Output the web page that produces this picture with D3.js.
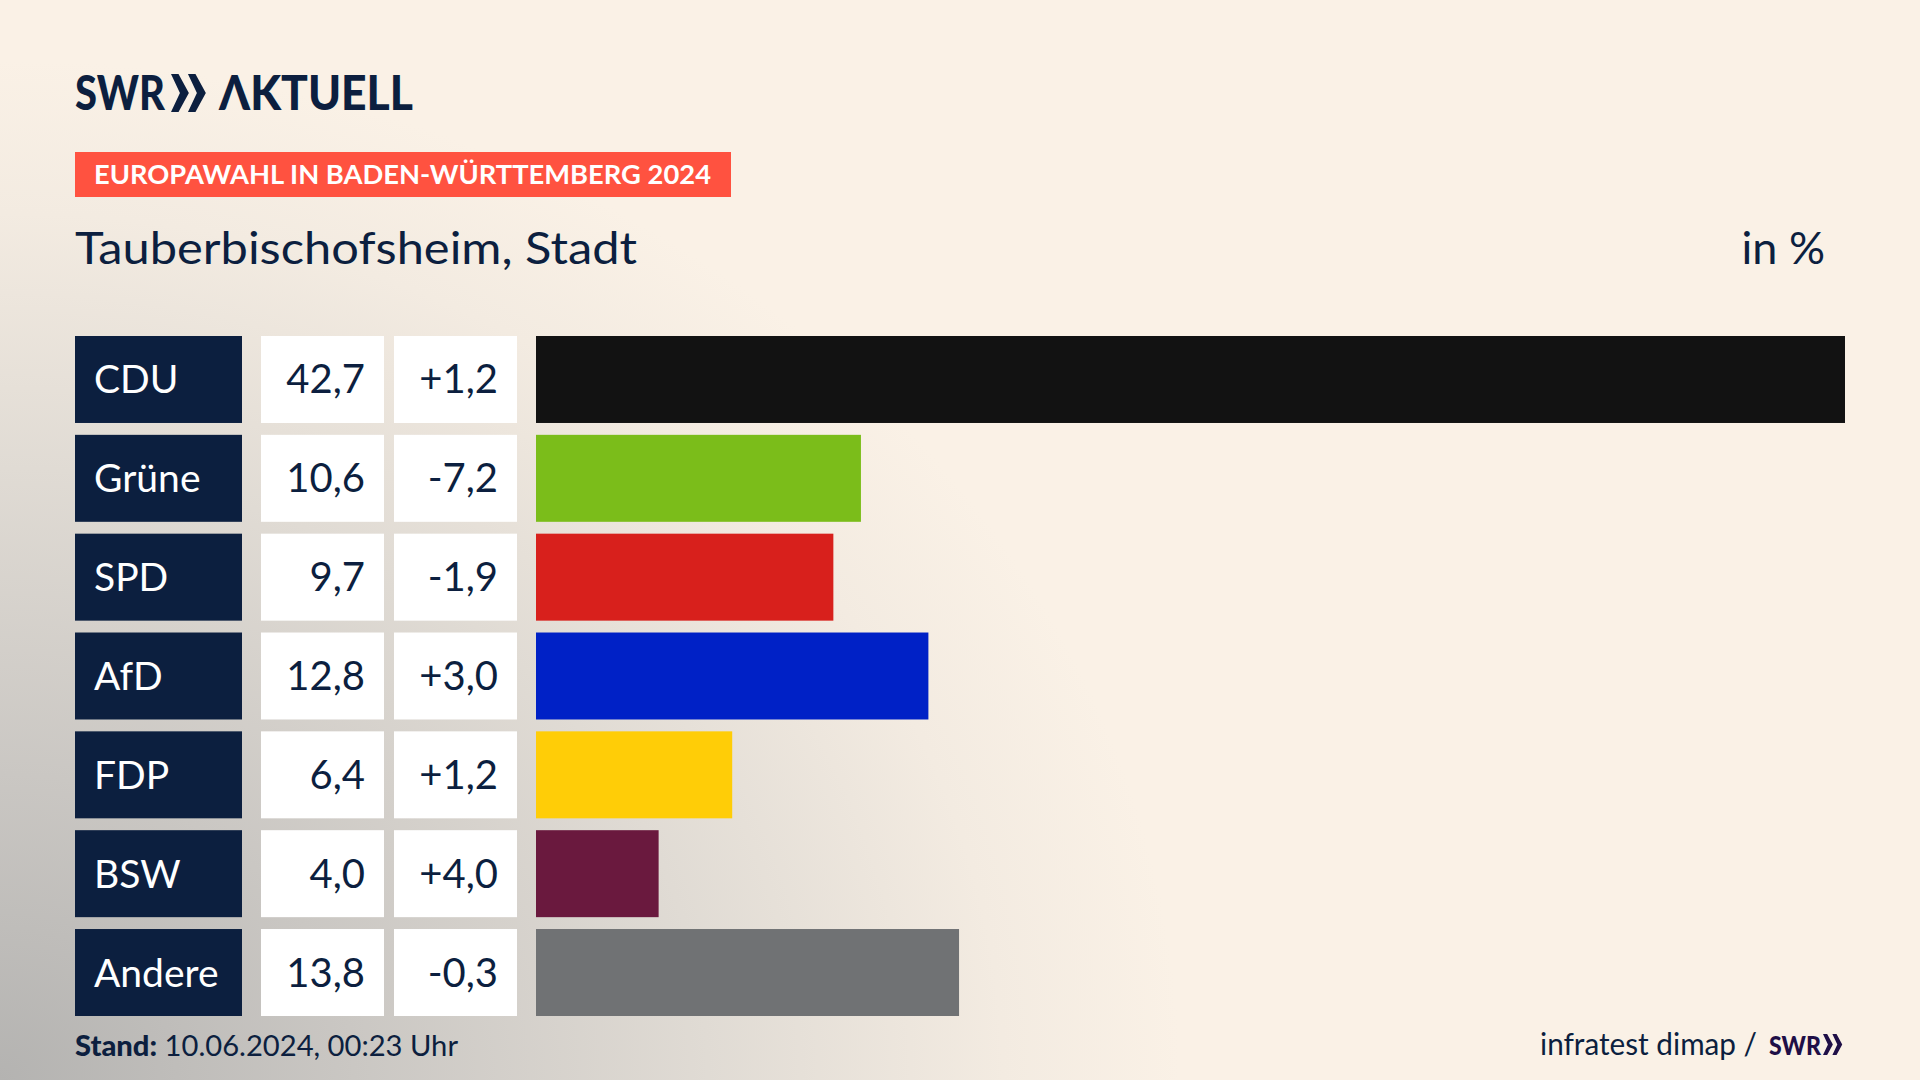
<!DOCTYPE html>
<html>
<head>
<meta charset="utf-8">
<script src="https://cdnjs.cloudflare.com/ajax/libs/d3/7.8.5/d3.min.js"></script>
<style>
html, body { margin: 0; padding: 0; background: #faf1e6; }
svg { display: block; }
text { font-family: Lato, "Noto Sans", sans-serif; fill: #0c1f3f; }
</style>
</head>
<body>
<div id="chart"></div>
<script>
// Data
const parties = ['CDU', 'Grüne', 'SPD', 'AfD', 'FDP', 'BSW', 'Andere'];
const shares = [42.7, 10.6, 9.7, 12.8, 6.4, 4.0, 13.8];
const changes = [1.2, -7.2, -1.9, 3.0, 1.2, 4.0, -0.3];
const colors = ['#121212', '#7bbd1a', '#d8201c', '#0021c6', '#ffcd07', '#6a193e', '#707274'];

const fmt = v => v.toFixed(1).replace('.', ',');
const fmtChange = v => (v > 0 ? '+' : '') + fmt(v);

const width = 1920, height = 1080;

const svg = d3.select('#chart').append('svg')
    .attr('width', width)
    .attr('height', height);

// Background with the grey glow from the bottom left corner
const defs = svg.append('defs');
const glow = defs.append('radialGradient')
    .attr('id', 'glow')
    .attr('gradientUnits', 'userSpaceOnUse')
    .attr('cx', 0).attr('cy', 0).attr('r', 1)
    .attr('gradientTransform', 'translate(0,1080) scale(1180,1020)');
[[0, '#b4b3b1'], [0.3, '#cac7c3'], [0.6, '#e0dbd4'], [0.85, '#f3ebe1'], [1, '#faf1e6']]
    .forEach(s => glow.append('stop').attr('offset', s[0]).attr('stop-color', s[1]));

svg.append('rect').attr('width', width).attr('height', height).attr('fill', '#faf1e6');
svg.append('rect').attr('width', width).attr('height', height).attr('fill', 'url(#glow)');

// Scales
const x = d3.scaleLinear().domain([0, 42.7]).range([536, 1845]);
const y = d3.scaleBand().domain(parties).range([336, 1016]).paddingInner(0.12);

// Header
function chevrons(g, px, py, h, color) {
    const w = h * 0.47;
    [0, 0.95].forEach(k => {
        const ox = px + k * w;
        g.append('path')
            .attr('d', `M${ox},${py} L${ox + w * 0.42},${py} L${ox + w},${py + h / 2} L${ox + w * 0.42},${py + h} L${ox},${py + h} L${ox + w * 0.5},${py + h / 2} Z`)
            .attr('fill', color);
    });
}

svg.append('text').attr('x', 75).attr('y', 110)
    .attr('font-size', 48).attr('font-weight', 900)
    .attr('textLength', 90).attr('lengthAdjust', 'spacingAndGlyphs')
    .text('SWR');
chevrons(svg, 171, 74, 38, '#0c1f3f');
svg.append('text').attr('x', 219).attr('y', 110)
    .attr('font-size', 48).attr('font-weight', 900)
    .attr('textLength', 194).attr('lengthAdjust', 'spacingAndGlyphs')
    .text('ΛKTUELL');

svg.append('rect').attr('x', 75).attr('y', 152).attr('width', 656).attr('height', 45).attr('fill', '#ff5240');
svg.append('text').attr('x', 94).attr('y', 184)
    .attr('font-size', 27).attr('font-weight', 700)
    .attr('textLength', 617).attr('lengthAdjust', 'spacingAndGlyphs')
    .style('fill', '#fff')
    .text('EUROPAWAHL IN BADEN-WÜRTTEMBERG 2024');

svg.append('text').attr('x', 75).attr('y', 264)
    .attr('font-size', 45)
    .attr('textLength', 562).attr('lengthAdjust', 'spacingAndGlyphs')
    .text('Tauberbischofsheim, Stadt');
svg.append('text').attr('x', 1825).attr('y', 264)
    .attr('font-size', 45).attr('text-anchor', 'end')
    .text('in %');

// Rows
const rows = svg.selectAll('.row')
    .data(parties)
  .enter().append('g')
    .attr('class', 'row')
    .attr('transform', d => `translate(0,${y(d)})`);

rows.append('rect')
    .attr('x', 75).attr('width', 167).attr('height', y.bandwidth())
    .attr('fill', '#0c1f3f');
rows.append('rect')
    .attr('x', 261).attr('width', 123).attr('height', y.bandwidth())
    .attr('fill', '#fff');
rows.append('rect')
    .attr('x', 394).attr('width', 123).attr('height', y.bandwidth())
    .attr('fill', '#fff');
rows.append('rect')
    .attr('x', x(0))
    .attr('width', (d, i) => x(shares[i]) - x(0))
    .attr('height', y.bandwidth())
    .attr('fill', (d, i) => colors[i]);

const baseline = y.bandwidth() / 2 + 14;
rows.append('text')
    .attr('x', 94).attr('y', baseline)
    .attr('font-size', 39)
    .style('fill', '#fff')
    .text(d => d);
rows.append('text')
    .attr('x', 365).attr('y', baseline)
    .attr('font-size', 40).attr('text-anchor', 'end')
    .text((d, i) => fmt(shares[i]));
rows.append('text')
    .attr('x', 498).attr('y', baseline)
    .attr('font-size', 40).attr('text-anchor', 'end')
    .text((d, i) => fmtChange(changes[i]));

// Footer
const stand = svg.append('text').attr('x', 75).attr('y', 1056).attr('font-size', 28)
    .attr('textLength', 383).attr('lengthAdjust', 'spacingAndGlyphs');
stand.append('tspan').attr('font-weight', 900).text('Stand:');
stand.append('tspan').text(' 10.06.2024, 00:23 Uhr');

svg.append('text').attr('x', 1757).attr('y', 1055).attr('font-size', 30)
    .attr('text-anchor', 'end')
    .attr('textLength', 217).attr('lengthAdjust', 'spacingAndGlyphs')
    .text('infratest dimap /');
svg.append('text').attr('x', 1769).attr('y', 1055)
    .attr('font-size', 27).attr('font-weight', 900)
    .attr('textLength', 52).attr('lengthAdjust', 'spacingAndGlyphs')
    .style('fill', '#1f0f47')
    .text('SWR');
chevrons(svg, 1823, 1034, 21, '#1f0f47');
</script>
</body>
</html>
